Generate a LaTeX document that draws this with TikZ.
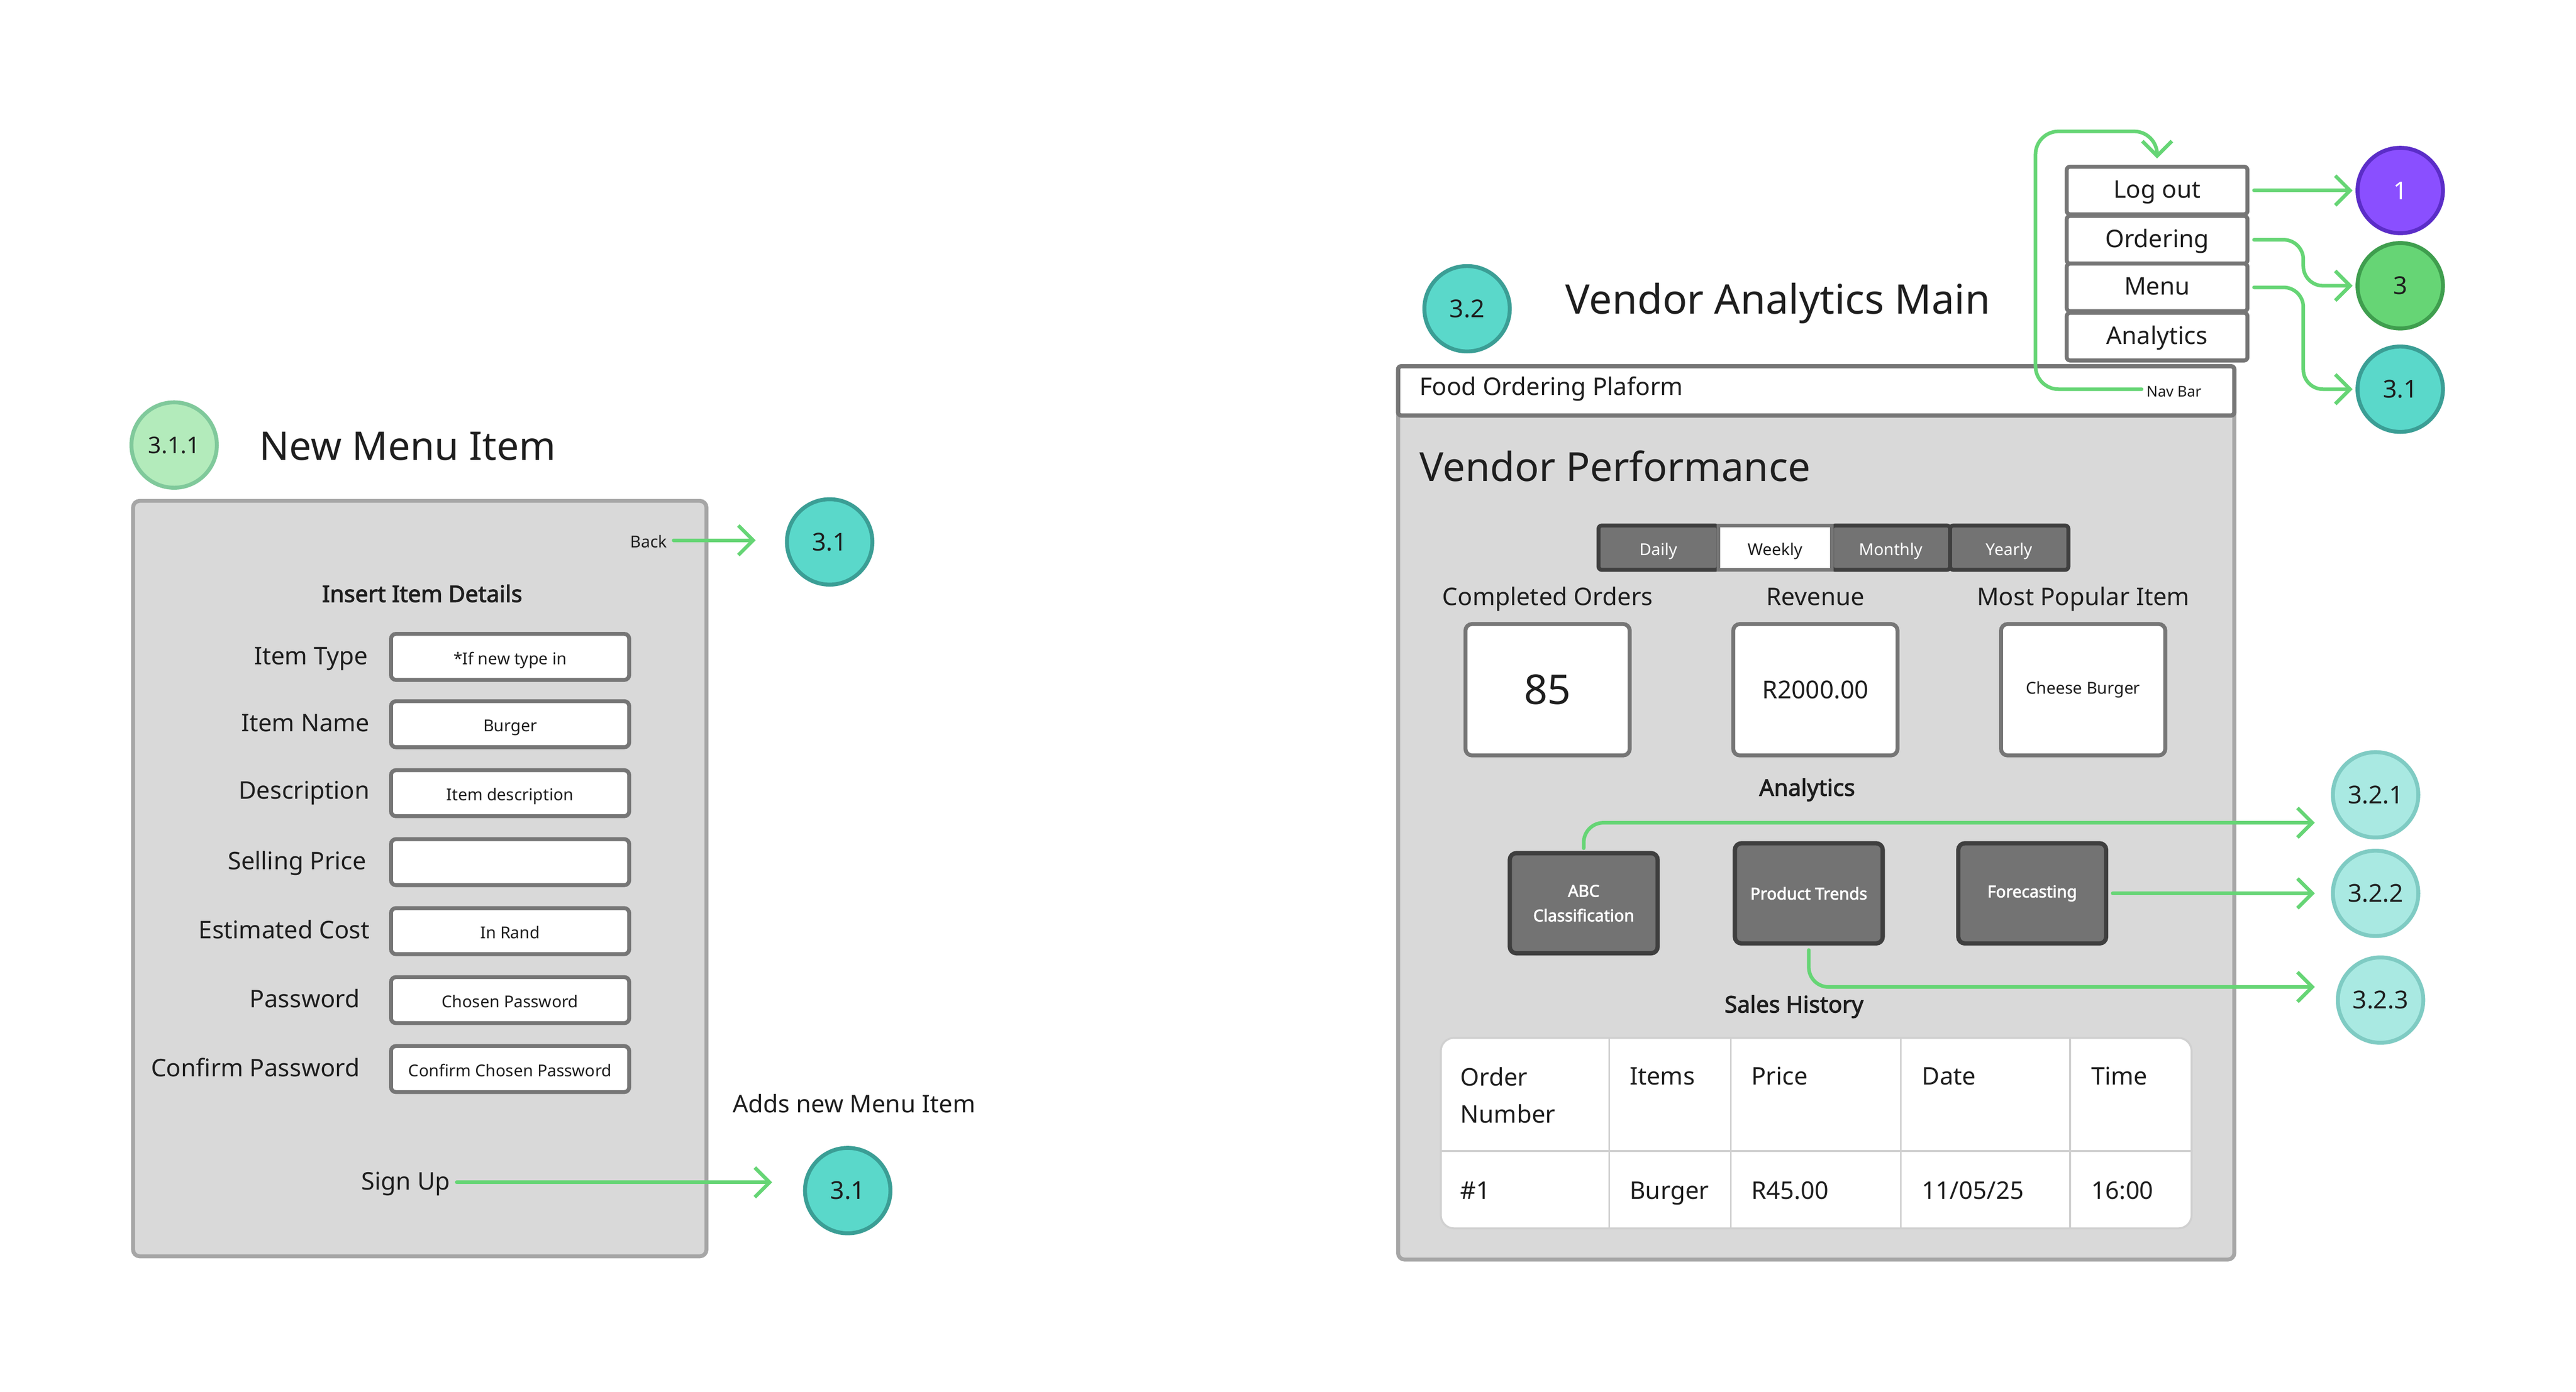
\documentclass[tikz,border=0pt]{standalone}
\usepackage{fontspec}
\setmainfont{Noto Sans}[AutoFakeBold=2.5]
\usetikzlibrary{arrows.meta}
\definecolor{ink}{HTML}{1E1E1E}
\definecolor{panelf}{HTML}{D9D9D9}
\definecolor{panelb}{HTML}{A6A6A6}
\definecolor{fieldb}{HTML}{767676}
\definecolor{tealf}{HTML}{5AD8CA}
\definecolor{tealb}{HTML}{3B9E95}
\definecolor{ltgf}{HTML}{B3EBBB}
\definecolor{ltgb}{HTML}{80C99B}
\definecolor{purf}{HTML}{8A4FFF}
\definecolor{purb}{HTML}{5B2DC8}
\definecolor{grnf}{HTML}{66D575}
\definecolor{grnb}{HTML}{3F9E4E}
\definecolor{ltwf}{HTML}{A9E9E2}
\definecolor{ltwb}{HTML}{7FCBC3}
\definecolor{cgreen}{HTML}{66D575}
\definecolor{darkf}{HTML}{737373}
\definecolor{darkbd}{HTML}{3F3F3F}
\definecolor{tgrid}{HTML}{D0D0D0}
\tikzset{
  tbox/.style={text height=0.7em, text depth=0.24em},
  txt/.style={inner sep=0pt, outer sep=0pt, text=ink, tbox},
  lbl/.style={txt, font=\fontsize{7.4pt}{9pt}\selectfont},
  boldlbl/.style={txt, font=\fontsize{7pt}{9pt}\selectfont\bfseries},
  smalltxt/.style={txt, font=\fontsize{5pt}{6pt}\selectfont},
  tinytxt/.style={txt, font=\fontsize{4.5pt}{5.5pt}\selectfont},
  titletxt/.style={inner sep=0pt, outer sep=0pt, text=ink, text height=0.95em, text depth=0.24em, font=\fontsize{12pt}{14pt}\selectfont},
  panel/.style={draw=panelb, fill=panelf, line width=1.2pt, rounded corners=2pt, inner sep=0pt, outer sep=0pt},
  barbox/.style={draw=fieldb, fill=white, line width=1.3pt, rounded corners=1pt, inner sep=0pt, outer sep=0pt},
  field/.style={draw=fieldb, fill=white, line width=1.2pt, rounded corners=1.5pt, minimum width=72.5pt, minimum height=14pt, inner sep=0pt, outer sep=0pt, font=\fontsize{5pt}{6pt}\selectfont, text=ink, tbox},
  navbtn/.style={draw=fieldb, fill=white, line width=1.2pt, rounded corners=1pt, minimum width=55pt, minimum height=14.5pt, inner sep=0pt, outer sep=0pt, font=\fontsize{7.4pt}{9pt}\selectfont, text=ink, tbox},
  circ/.style={circle, line width=1.2pt, minimum size=26pt, inner sep=0pt, outer sep=0pt, font=\fontsize{7.5pt}{9pt}\selectfont, text=ink},
  tealc/.style={circ, fill=tealf, draw=tealb},
  ltgc/.style={circ, fill=ltgf, draw=ltgb, font=\fontsize{7pt}{9pt}\selectfont},
  purc/.style={circ, fill=purf, draw=purb, text=white},
  grnc/.style={circ, fill=grnf, draw=grnb},
  ltwc/.style={circ, fill=ltwf, draw=ltwb},
  tabdark/.style={draw=darkbd, fill=darkf, line width=1.2pt, rounded corners=1pt, minimum height=13.5pt, inner sep=0pt, outer sep=0pt, font=\fontsize{5pt}{6pt}\selectfont, text=white, tbox},
  tablight/.style={draw=fieldb, fill=white, line width=1.2pt, minimum height=13.5pt, inner sep=0pt, outer sep=0pt, font=\fontsize{5pt}{6pt}\selectfont, text=ink, tbox},
  statbox/.style={draw=fieldb, fill=white, line width=1.2pt, rounded corners=2pt, minimum width=50pt, minimum height=40pt, inner sep=0pt, outer sep=0pt, text=ink},
  darkbtn/.style={draw=darkbd, fill=darkf, line width=1.3pt, rounded corners=2pt, minimum width=45pt, minimum height=30.5pt, inner sep=0pt, outer sep=0pt, align=center, font=\fontsize{5pt}{7.5pt}\selectfont\bfseries, text=white},
  tablebox/.style={draw=tgrid, fill=white, line width=0.6pt, rounded corners=4pt, inner sep=0pt, outer sep=0pt},
  tgridline/.style={draw=tgrid, line width=0.6pt},
  conn/.style={draw=cgreen, line width=1.1pt, line cap=round, rounded corners=6pt, -{Straight Barb[length=4.5pt,width=9pt]}},
}
\begin{document}
\begin{tikzpicture}[x=0.5pt,y=-0.5pt]
\useasboundingbox (0,0) rectangle (1568,847.5);
\fill[white] (0,0) rectangle (1568,847.5);

% ================= Left: New Menu Item =================
\node[ltgc] (n311) at (106,271) {3.1.1};
\node[titletxt, anchor=west] (t1) at (158,273) {New Menu Item};
\node[panel, anchor=north west, minimum width=174.5pt, minimum height=230pt] (lp) at (81,305) {};
\node[smalltxt, anchor=east] (back) at (406,329) {Back};
\node[tealc] (c31a) at (505,330) {3.1};
\coordinate (e31a) at (460,329);
\draw[conn, shorten <=2pt] (back.east) -- (e31a);

\node[boldlbl] (iid) at (257,362) {Insert Item Details};

\node[lbl, anchor=east] (l1) at (224,400) {Item Type};
\node[field] (f1) at (310.5,400) {*If new type in};
\node[lbl, anchor=east] (l2) at (225,441) {Item Name};
\node[field] (f2) at (310.5,441) {Burger};
\node[lbl, anchor=east] (l3) at (225,482) {Description};
\node[field] (f3) at (310.5,483) {Item description};
\node[lbl, anchor=east] (l4) at (223,525) {Selling Price};
\node[field] (f4) at (310.5,525) {};
\node[lbl, anchor=east] (l5) at (225,567) {Estimated Cost};
\node[field] (f5) at (310.5,567) {In Rand};
\node[lbl, anchor=east] (l6) at (219,609) {Password};
\node[field] (f6) at (310.5,609) {Chosen Password};
\node[lbl, anchor=east] (l7) at (219,651) {Confirm Password};
\node[field] (f7) at (310.5,651) {Confirm Chosen Password};

\node[lbl, anchor=west] (adds) at (446,673) {Adds new Menu Item};
\node[lbl, anchor=east] (signup) at (274,720) {Sign Up};
\node[tealc] (c31b) at (516,725) {3.1};
\coordinate (e31b) at (470,720);
\draw[conn, shorten <=2pt] (signup.east) -- (e31b);

% ================= Right: Vendor Analytics Main =================
\node[tealc] (c32) at (893,188) {3.2};
\node[titletxt, anchor=west, font=\fontsize{12.4pt}{15pt}\selectfont] (t2) at (953,184) {Vendor Analytics Main};

\node[panel, anchor=north west, minimum width=254.5pt, minimum height=272pt] (rp) at (851,223) {};
\node[barbox, anchor=north west, minimum width=254.5pt, minimum height=15pt] (hdr) at (851,223) {};
\node[lbl, anchor=west] (fop) at (864,236) {Food Ordering Plaform};
\node[tinytxt, anchor=east] (navbar) at (1340,237) {Nav Bar};

\node[navbtn] (nlog) at (1313,116) {Log out};
\node[navbtn] (nord) at (1313,146) {Ordering};
\node[navbtn] (nmenu) at (1313,175) {Menu};
\node[navbtn] (nana) at (1313,205) {Analytics};

\node[purc] (c1) at (1461,116) {1};
\node[grnc] (c3) at (1461,174) {3};
\node[tealc] (c31c) at (1461,237) {3.1};

\draw[conn, shorten <=2pt, shorten >=1.5pt] (nlog.east) -- (c1.west);
\draw[conn] ([xshift=2pt]nord.east) -- ++(15pt,0) |- ([xshift=-1.5pt]c3.west);
\draw[conn] ([xshift=2pt]nmenu.east) -- ++(15pt,0) |- ([xshift=-1.5pt]c31c.west);
\draw[conn, rounded corners=7pt] ([xshift=-1.5pt]navbar.west) -| (1239,80) -| ([yshift=2.5pt]nlog.north);

\node[titletxt, anchor=west, font=\fontsize{12.2pt}{14pt}\selectfont] (vp) at (864,286) {Vendor Performance};

\node[tabdark, minimum width=36.5pt] (tday) at (1009.5,333.5) {Daily};
\node[tabdark, minimum width=36pt] (tmon) at (1151,333.5) {Monthly};
\node[tabdark, minimum width=36pt] (tyear) at (1223,333.5) {Yearly};
\node[tablight, minimum width=34.5pt] (tweek) at (1080.5,333.5) {Weekly};

\node[lbl] (lco) at (942,364) {Completed Orders};
\node[lbl] (lrev) at (1105,364) {Revenue};
\node[lbl] (lmp) at (1268,364) {Most Popular Item};
\node[statbox, font=\fontsize{12.5pt}{14pt}\selectfont] (s1) at (942,420) {85};
\node[statbox, font=\fontsize{7.5pt}{9pt}\selectfont] (s2) at (1105,420) {R2000.00};
\node[statbox, font=\fontsize{5pt}{6pt}\selectfont] (s3) at (1268,420) {Cheese Burger};

\node[boldlbl] (anl) at (1100,480) {Analytics};

\node[darkbtn] (babc) at (964,550) {ABC\\Classification};
\node[darkbtn] (bpt) at (1101,544) {Product Trends};
\node[darkbtn] (bfc) at (1237,544) {Forecasting};

\node[ltwc] (c321) at (1446,484) {3.2.1};
\node[ltwc] (c322) at (1446,544) {3.2.2};
\node[ltwc] (c323) at (1449,609) {3.2.3};
\coordinate (e321) at (1409,501);
\coordinate (e322) at (1409,544);
\coordinate (e323) at (1409,601);
\draw[conn] ([yshift=1.5pt]babc.north) |- (e321);
\draw[conn, shorten <=2pt] (bfc.east) -- (e322);
\draw[conn] ([yshift=-2pt]bpt.south) |- (e323);

\node[boldlbl] (shist) at (1092,612) {Sales History};

\node[tablebox, anchor=north west, minimum width=228.5pt, minimum height=58pt] (tbl) at (877,632) {};
\draw[tgridline] (979.5,632) -- (979.5,748);
\draw[tgridline] (1053.5,632) -- (1053.5,748);
\draw[tgridline] (1157,632) -- (1157,748);
\draw[tgridline] (1260,632) -- (1260,748);
\draw[tgridline] (877,701) -- (1334,701);

\node[lbl, anchor=west, align=left, font=\fontsize{7.4pt}{11.3pt}\selectfont, text height=, text depth=] (h1) at (889,667) {Order\\Number};
\node[lbl, anchor=west] (h2) at (992,656) {Items};
\node[lbl, anchor=west] (h3) at (1066,656) {Price};
\node[lbl, anchor=west] (h4) at (1170,656) {Date};
\node[lbl, anchor=west] (h5) at (1273,656) {Time};
\node[lbl, anchor=west] (r1) at (889,725.5) {\#1};
\node[lbl, anchor=west] (r2) at (992,725.5) {Burger};
\node[lbl, anchor=west] (r3) at (1066,725.5) {R45.00};
\node[lbl, anchor=west] (r4) at (1170,725.5) {11/05/25};
\node[lbl, anchor=west] (r5) at (1273,725.5) {16:00};
\end{tikzpicture}
\end{document}
